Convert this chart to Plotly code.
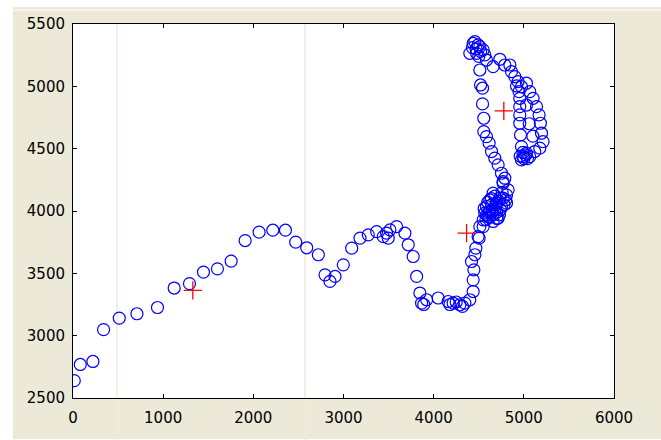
import plotly.graph_objects as go

# Blue trajectory points
traj_x = [14, 81, 221, 339, 513, 709, 937, 1122, 1292, 1447, 1602, 1754, 1909, 2064, 2216, 2356,
          2470, 2592, 2721, 2795, 2850, 2906, 2998, 3091, 3183, 3275, 3368, 3441, 3478, 3515, 3496,
          3589, 3681, 3718, 3773, 3811, 3847, 3866, 3890, 3922, 4050, 4161, 4180, 4216, 4250, 4291,
          4320, 4346, 4401, 4438, 4438, 4446, 4420, 4457, 4468, 4504, 4549,
          4493, 4512, 4549, 4567, 4586, 4623, 4659, 4734, 4808, 4826, 4770, 4789, 4752, 4604, 4678,
          4752, 4808, 4715, 4659, 4697, 4642, 4770, 4623, 4586,
          4580, 4620, 4660, 4700, 4740, 4780, 4720, 4680, 4640, 4600, 4560, 4700, 4760, 4800, 4650,
          4610, 4690, 4730,
          4770, 4715, 4678, 4642, 4615, 4586, 4556, 4556, 4542, 4542, 4520, 4512, 4586, 4567, 4549,
          4476, 4401, 4438, 4493, 4457, 4512, 4470, 4520, 4430, 4500,
          4659, 4734, 4789, 4845, 4863, 4900, 4936, 4974, 5029, 5066,
          5103, 5140, 5169, 5184, 5196, 5213, 5177, 5121, 5066,
          4992, 4974, 5029, 5000, 5020, 4960, 5040, 4990,
          4974, 4963, 4955, 4955, 4955, 4955, 4947, 4919,
          5030, 5060, 5100]
traj_y = [2639, 2769, 2793, 3048, 3141, 3176, 3226, 3382, 3417, 3510, 3536, 3598, 3763, 3830, 3846, 3846,
          3750, 3705, 3649, 3488, 3435, 3475, 3568, 3702, 3782, 3809, 3835, 3795, 3823, 3849, 3782,
          3875, 3823, 3729, 3635, 3475, 3342, 3261, 3250, 3288, 3302, 3274, 3250, 3261, 3270, 3248,
          3235, 3261, 3288, 3354, 3448, 3528, 3595, 3649, 3702, 3782, 3875,
          3795, 3875, 3929, 3983, 4036, 4089, 4143, 4103, 4129, 4170, 4223, 4263, 4303, 3956, 4009,
          4036, 4063, 3943, 3916, 4063, 4049, 4103, 3996, 3969,
          3930, 3950, 3970, 3990, 4010, 4050, 4080, 4120, 4100, 4070, 4020, 3940, 4150, 4090, 4000,
          3990, 4050, 3970,
          4236, 4370, 4424, 4477, 4544, 4597, 4637, 4744, 4859, 4985, 5011, 5131, 5211, 5252, 5292,
          5265, 5265, 5345, 5332, 5358, 5318, 5300, 5280, 5310, 5240,
          5158, 5217, 5171, 5171, 5118, 5078, 5038, 4997, 5025, 4957,
          4904, 4837, 4771, 4704, 4624, 4557, 4504, 4477, 4436,
          4436, 4410, 4464, 4420, 4450, 4440, 4420, 4470,
          4517, 4610, 4704, 4771, 4837, 4904, 4957, 5003,
          4850, 4700, 4600]

# Red cross centres
cent_x = [1329, 4365, 4778]
cent_y = [3363, 3823, 4803]

x_ticks = [0, 1000, 2000, 3000, 4000, 5000, 6000]
y_ticks = [2500, 3000, 3500, 4000, 4500, 5000, 5500]

fig = go.Figure()
fig.add_trace(go.Scatter(x=traj_x, y=traj_y, mode="markers",
                         marker=dict(symbol="circle-open", size=12, color="#0000FF",
                                     line=dict(width=1.2, color="#0000FF")),
                         showlegend=False, hoverinfo="skip"))
fig.add_trace(go.Scatter(x=cent_x, y=cent_y, mode="markers",
                         marker=dict(symbol="cross-thin-open", size=13, color="#FF0000",
                                     line=dict(width=1.3, color="#FF0000")),
                         showlegend=False, hoverinfo="skip"))

beige = "#ECE9D8"
L, R, T, B = 73, 47, 24, 42
W, H = 661, 440
pw, ph = W - L - R, H - T - B

def px(xp):
    return (xp - L) / pw

def py(yp):
    return (H - B - yp) / ph

shapes = [
    dict(type="rect", xref="paper", yref="paper", x0=px(13), x1=px(662), y0=py(7), y1=py(439),
         fillcolor=beige, line=dict(width=0), layer="below"),
    dict(type="rect", xref="paper", yref="paper", x0=0, x1=1, y0=0, y1=1,
         fillcolor="white", line=dict(width=0), layer="below"),
    dict(type="line", xref="paper", yref="paper", x0=px(13), x1=px(662), y0=py(10), y1=py(10),
         line=dict(color="#F8F7F2", width=1.5)),
    dict(type="line", xref="paper", yref="paper", x0=px(117), x1=px(117), y0=py(10), y1=py(440),
         line=dict(color="#EEEBDD", width=1.5), layer="below"),
    dict(type="line", xref="paper", yref="paper", x0=px(305), x1=px(305), y0=py(10), y1=py(440),
         line=dict(color="#EEEBDD", width=1.5), layer="below"),
]

axis_common = dict(showgrid=False, zeroline=False, showline=True, linecolor="black", linewidth=1,
                   mirror="allticks", ticks="inside", ticklen=4, tickcolor="black", tickwidth=1,
                   tickfont=dict(family="DejaVu Sans", size=15, color="black"))

fig.update_layout(
    width=W, height=H, autosize=False,
    margin=dict(l=L, r=R, t=T, b=B, pad=0),
    paper_bgcolor="white", plot_bgcolor="rgba(0,0,0,0)",
    shapes=shapes,
    xaxis=dict(range=[0, 6000], tickvals=x_ticks, ticktext=[str(v) for v in x_ticks],
               ticklabelstandoff=6, **axis_common),
    yaxis=dict(range=[2500, 5500], tickvals=y_ticks, ticktext=[str(v) for v in y_ticks],
               ticklabelstandoff=4, **axis_common),
)

fig.write_html("out.html")
